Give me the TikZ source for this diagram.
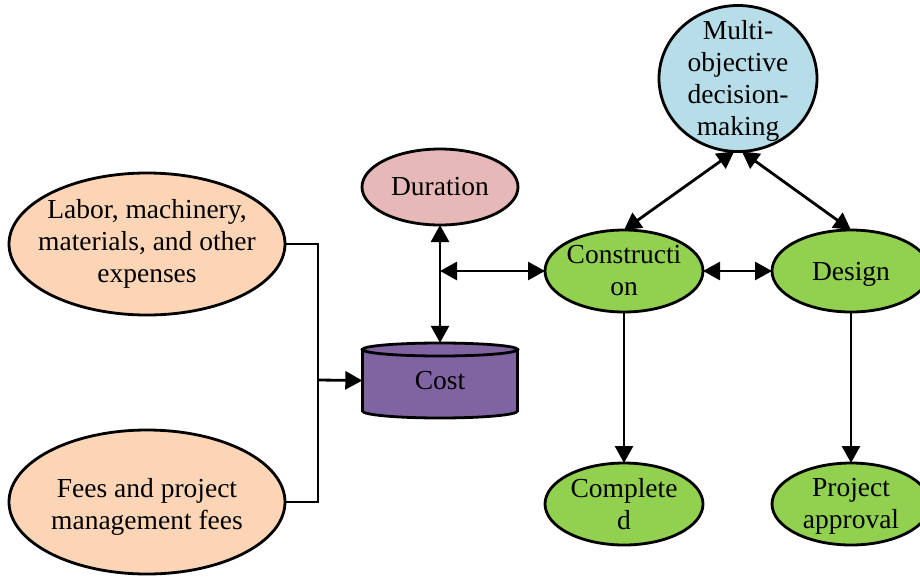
\documentclass[tikz,border=0pt]{standalone}
\usepackage{fontspec}
\setmainfont{Liberation Serif}
\usetikzlibrary{arrows.meta,shapes.geometric}
\definecolor{peach}{RGB}{251,213,181}
\definecolor{rosy}{RGB}{230,184,183}
\definecolor{violet}{RGB}{128,100,162}
\definecolor{skyblue}{RGB}{183,221,232}
\definecolor{leaf}{RGB}{146,208,80}
\begin{document}
\begin{tikzpicture}[x=1pt,y=1pt,yscale=-1,
  ell/.style={ellipse,draw=black,line width=2.8pt,inner sep=0pt,outer sep=0pt},
  txt/.style={align=center,font=\fontsize{27.5}{32}\selectfont,inner sep=0pt},
  link/.style={line width=2.8pt,draw=black},
  onearrow/.style={-{Triangle[length=17pt,width=18pt]}},
  twoarrow/.style={{Triangle[length=17pt,width=18pt]}-{Triangle[length=17pt,width=18pt]}}]
\useasboundingbox (0,0) rectangle (920,576);

% cost cylinder body and lid
\filldraw[fill=violet,draw=black,line width=2.8pt]
  (362.5,349.5) -- (362.5,411) arc[start angle=180,end angle=0,x radius=77.5,y radius=7]
  -- (517.5,349.5) -- cycle;
\filldraw[fill=violet,draw=black,line width=2.8pt]
  (440,349.5) ellipse[x radius=77.5,y radius=6.5];

% nodes
\node[ell,fill=peach,minimum width=276,minimum height=142,
  label={[txt]center:{Labor, machinery,\\materials, and other\\expenses}}] (labor) at (147,244) {};
\node[ell,fill=peach,minimum width=276,minimum height=144,
  label={[txt,yshift=-5pt]center:{Fees and project\\management fees}}] (fees) at (147,502) {};
\node[ell,fill=rosy,minimum width=156,minimum height=76,
  label={[txt]center:{Duration}}] (dur) at (440,187) {};
\node[txt,minimum width=155,minimum height=75] (cost) at (440,380.5) {Cost};
\node[ell,fill=skyblue,minimum width=158,minimum height=146,
  label={[txt,yshift=-2pt]center:{Multi-\\objective\\decision-\\making}}] (multi) at (738,78.5) {};
\node[ell,fill=leaf,minimum width=158,minimum height=82,
  label={[txt]center:{Constructi\\on}}] (con) at (624,271) {};
\node[ell,fill=leaf,minimum width=158,minimum height=82,
  label={[txt,yshift=-3pt]center:{Design}}] (des) at (851,271) {};
\node[ell,fill=leaf,minimum width=158,minimum height=82,
  label={[txt]center:{Complete\\d}}] (comp) at (624,504) {};
\node[ell,fill=leaf,minimum width=158,minimum height=82,
  label={[txt,yshift=-2pt]center:{Project\\approval}}] (proj) at (851,504) {};

% connectors
\coordinate (bus) at (318,380);
\draw[link] (labor.east) -| (bus) |- (fees.east);
\draw[link,onearrow] (bus) -- (cost.west);
\draw[link,twoarrow] (dur.south) -- (cost.north);
\draw[link,twoarrow] (dur.south |- con.west) -- (con.west);
\draw[link,twoarrow] (con.east) -- (des.west);
\draw[link,twoarrow] (multi.-93) -- (con.north);
\draw[link,twoarrow] (multi.-87) -- (des.north);
\draw[link,onearrow] (con.south) -- (comp.north);
\draw[link,onearrow] (des.south) -- (proj.north);
\end{tikzpicture}
\end{document}
